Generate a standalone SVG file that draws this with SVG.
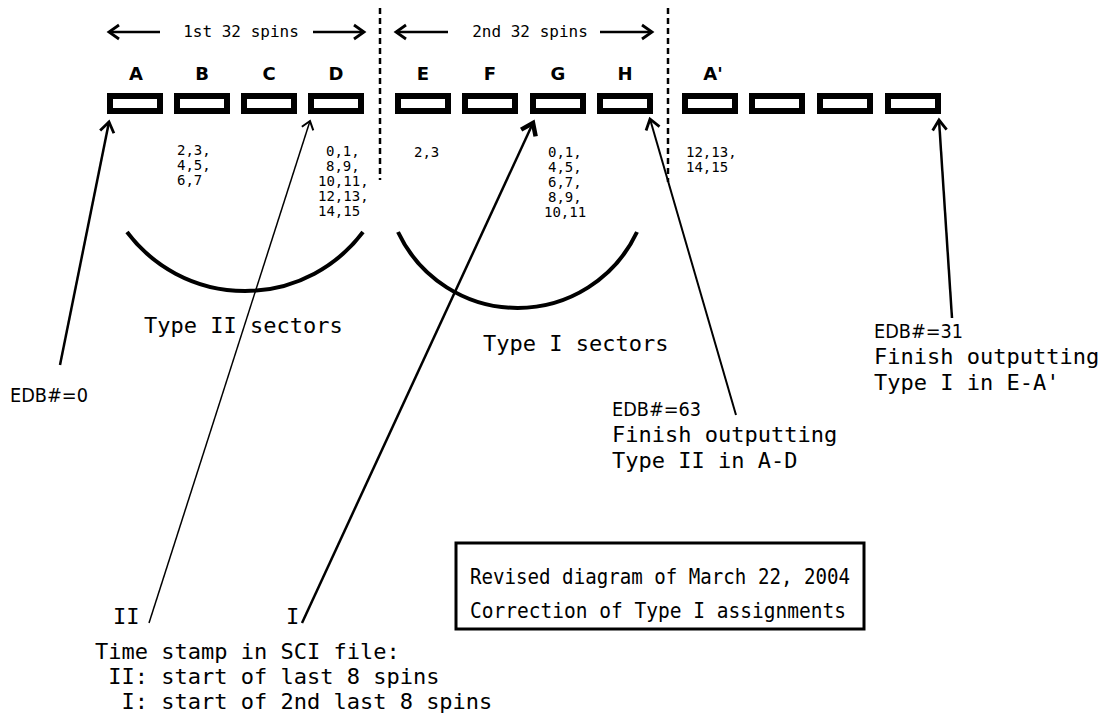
<svg xmlns="http://www.w3.org/2000/svg" width="1108" height="727" viewBox="0 0 1108 727">
<style>
.mono{font-family:"DejaVu Sans Mono","Liberation Mono",monospace;fill:#000}
.sans{font-family:"DejaVu Sans","Liberation Sans",sans-serif;fill:#000;font-size:20px}
.lbl{font-family:"DejaVu Sans","Liberation Sans",sans-serif;font-size:18px;font-weight:bold;text-anchor:middle}
.num{font-family:"DejaVu Sans Mono","Liberation Mono",monospace;font-size:14px}
.big{font-size:22px}
.box{fill:#fff;stroke:#000;stroke-width:6}
.dash{stroke:#000;stroke-width:2.5;stroke-dasharray:6 4;fill:none}
.arc{fill:none;stroke:#000;stroke-width:4}
.ln{stroke:#000;fill:none}
</style>
<defs>
<marker id="head" markerUnits="userSpaceOnUse" viewBox="-14 -10 18 20" markerWidth="18" markerHeight="20" refX="0" refY="0" orient="auto">
<path d="M-10,-7 L0,0 L-10,7" fill="none" stroke="#000" stroke-width="2.8"/>
</marker>
<marker id="headThin" markerUnits="userSpaceOnUse" viewBox="-14 -10 18 20" markerWidth="18" markerHeight="20" refX="0" refY="0" orient="auto">
<path d="M-8,-6 L0,0 L-8,6" fill="none" stroke="#000" stroke-width="2"/>
</marker>
<marker id="headBold" markerUnits="userSpaceOnUse" viewBox="-16 -12 22 24" markerWidth="22" markerHeight="24" refX="0" refY="0" orient="auto">
<path d="M-11,-8 L0,0 L-11,8" fill="none" stroke="#000" stroke-width="4.5"/>
</marker>
</defs>
<rect width="1108" height="727" fill="#fff"/>

<g id="spin-headers">
<line class="ln" x1="160" y1="32" x2="109" y2="32" stroke-width="2.5" marker-end="url(#head)"/>
<text class="mono" x="241" y="37" font-size="16" text-anchor="middle">1st 32 spins</text>
<line class="ln" x1="313" y1="32" x2="364" y2="32" stroke-width="2.5" marker-end="url(#head)"/>
<line class="ln" x1="448" y1="32" x2="396" y2="32" stroke-width="2.5" marker-end="url(#head)"/>
<text class="mono" x="530" y="37" font-size="16" text-anchor="middle">2nd 32 spins</text>
<line class="ln" x1="600" y1="32" x2="652" y2="32" stroke-width="2.5" marker-end="url(#head)"/>
<line class="dash" x1="380" y1="8" x2="380" y2="180"/>
<line class="dash" x1="668" y1="8" x2="668" y2="182"/>
</g>

<g id="sectors">
<g id="A"><text class="lbl" x="136" y="80">A</text><rect class="box" x="110" y="96" width="50" height="15"/></g>
<g id="B"><text class="lbl" x="202" y="80">B</text><rect class="box" x="177" y="96" width="50" height="15"/></g>
<g id="C"><text class="lbl" x="269" y="80">C</text><rect class="box" x="244" y="96" width="50" height="15"/></g>
<g id="D"><text class="lbl" x="336" y="80">D</text><rect class="box" x="311" y="96" width="50" height="15"/></g>
<g id="E"><text class="lbl" x="423" y="80">E</text><rect class="box" x="398" y="96" width="50" height="15"/></g>
<g id="F"><text class="lbl" x="490" y="80">F</text><rect class="box" x="465" y="96" width="50" height="15"/></g>
<g id="G"><text class="lbl" x="558" y="80">G</text><rect class="box" x="533" y="96" width="50" height="15"/></g>
<g id="H"><text class="lbl" x="625" y="80">H</text><rect class="box" x="600" y="96" width="50" height="15"/></g>
<g id="A2"><text class="lbl" x="713" y="80">A'</text><rect class="box" x="685" y="96" width="50" height="15"/></g>
<g id="S10"><rect class="box" x="752" y="96" width="50" height="15"/></g>
<g id="S11"><rect class="box" x="820" y="96" width="50" height="15"/></g>
<g id="S12"><rect class="box" x="888" y="96" width="50" height="15"/></g>
</g>

<g id="spin-numbers">
<text class="mono num" x="177" y="155">2,3,</text>
<text class="mono num" x="177" y="170">4,5,</text>
<text class="mono num" x="177" y="185">6,7</text>
<text class="mono num" x="326" y="156">0,1,</text>
<text class="mono num" x="326" y="171">8,9,</text>
<text class="mono num" x="318" y="186">10,11,</text>
<text class="mono num" x="318" y="201">12,13,</text>
<text class="mono num" x="318" y="216">14,15</text>
<text class="mono num" x="414" y="157">2,3</text>
<text class="mono num" x="548" y="157">0,1,</text>
<text class="mono num" x="548" y="172">4,5,</text>
<text class="mono num" x="548" y="187">6,7,</text>
<text class="mono num" x="548" y="202">8,9,</text>
<text class="mono num" x="544" y="217">10,11</text>
<text class="mono num" x="686" y="157">12,13,</text>
<text class="mono num" x="686" y="172">14,15</text>
</g>

<g id="type-groups">
<path class="arc" d="M127,232 A147.5,147.5 0 0 0 363,232"/>
<path class="arc" d="M398,232 A132,132 0 0 0 637,232"/>
<text class="mono big" x="144" y="333">Type II sectors</text>
<text class="mono big" x="483" y="351">Type I sectors</text>
</g>

<g id="connectors">
<line class="ln" x1="60" y1="365" x2="109" y2="122" stroke-width="2.5" marker-end="url(#head)"/>
<line class="ln" x1="149" y1="623" x2="310" y2="121" stroke-width="1.5" marker-end="url(#headThin)"/>
<line class="ln" x1="302" y1="623" x2="533" y2="123" stroke-width="2.5" marker-end="url(#headBold)"/>
<line class="ln" x1="736" y1="415" x2="650" y2="119" stroke-width="2" marker-end="url(#head)"/>
<line class="ln" x1="952" y1="318" x2="939" y2="120" stroke-width="2.5" marker-end="url(#head)"/>
</g>

<g id="edb0"><text class="sans" x="10" y="402" textLength="78" lengthAdjust="spacingAndGlyphs">EDB#=0</text></g>

<g id="edb63">
<text class="sans" x="612" y="416" textLength="89" lengthAdjust="spacingAndGlyphs">EDB#=63</text>
<text class="mono big" x="612" y="442">Finish outputting</text>
<text class="mono big" x="612" y="468">Type II in A-D</text>
</g>

<g id="edb31">
<text class="sans" x="874" y="338" textLength="89" lengthAdjust="spacingAndGlyphs">EDB#=31</text>
<text class="mono big" x="874" y="364">Finish outputting</text>
<text class="mono big" x="874" y="390">Type I in E-A'</text>
</g>

<g id="timestamp">
<text class="mono big" x="113" y="624">II</text>
<text class="mono big" x="286" y="624">I</text>
<text class="mono big" x="95" y="659">Time stamp in SCI file:</text>
<text class="mono big" x="95" y="684" xml:space="preserve"> II: start of last 8 spins</text>
<text class="mono big" x="95" y="709" xml:space="preserve">  I: start of 2nd last 8 spins</text>
</g>

<g id="revised">
<rect x="456" y="543" width="408" height="86" fill="none" stroke="#000" stroke-width="3"/>
<text class="mono" x="470" y="584" font-size="22" textLength="380" lengthAdjust="spacingAndGlyphs">Revised diagram of March 22, 2004</text>
<text class="mono" x="470" y="618" font-size="22" textLength="376" lengthAdjust="spacingAndGlyphs">Correction of Type I assignments</text>
</g>
</svg>
